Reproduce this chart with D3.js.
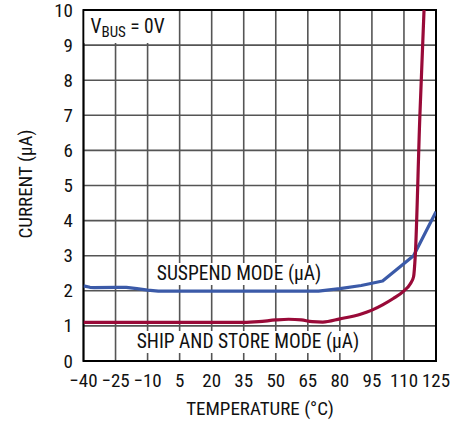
<!DOCTYPE html>
<html><head><meta charset="utf-8">
<script src="https://cdn.jsdelivr.net/npm/d3@7"></script>
<style>
html,body{margin:0;padding:0;background:#fff;}
text{font-family:"Liberation Sans Narrow","Arial Narrow","Roboto Condensed",sans-serif;fill:#111;}
</style></head>
<body><svg id="c" width="464" height="425"></svg>
<script>
const xTicks = [-40,-25,-10,5,20,35,50,65,80,95,110,125];
const yTicks = [0,1,2,3,4,5,6,7,8,9,10];
const suspendTemp = [-40,-37,-35,-25,-20,-15,-10,-5,5,20,35,50,65,70,80,90,100,114.5,125];
const suspendVal  = [2.14,2.1,2.09,2.1,2.1,2.06,2.02,1.99,1.99,1.99,1.99,1.99,1.99,1.99,2.06,2.15,2.28,3.0,4.25];
const shipTemp = [-40,-25,-10,5,20,35,42,50,56,62,67,72,80,90,95,100,105,110,113,114.5,115.3,117.4,119.4];
const shipVal  = [1.1,1.1,1.1,1.1,1.1,1.1,1.12,1.17,1.19,1.17,1.12,1.11,1.2,1.34,1.45,1.6,1.78,2.0,2.2,2.4,3.0,6.9,10];

const svg = d3.select("#c");
const L=83.5,R=436,T=10,B=361;
const x = d3.scaleLinear().domain([-40,125]).range([L,R]);
const y = d3.scaleLinear().domain([0,10]).range([B,T]);

// grid
const g = svg.append("g");
g.selectAll(".vx").data(xTicks).enter().append("line")
 .attr("x1",d=>x(d)).attr("x2",d=>x(d)).attr("y1",T).attr("y2",B)
 .attr("stroke","#555").attr("stroke-width",1.6);
g.selectAll(".hy").data(yTicks).enter().append("line")
 .attr("y1",d=>y(d)).attr("y2",d=>y(d)).attr("x1",L).attr("x2",R)
 .attr("stroke","#555").attr("stroke-width",1.6);

function bgText(txt, cx, cy, size){
  const t = svg.append("text").attr("x",cx).attr("y",cy).attr("text-anchor","middle")
    .attr("font-size",size).text(txt);
  const bb = t.node().getBBox();
  svg.insert("rect", function(){return t.node();})
    .attr("x",bb.x-3).attr("y",bb.y+1).attr("width",bb.width+6).attr("height",bb.height-1).attr("fill","#fff");
  return t;
}

svg.append("rect").attr("x",L).attr("y",T).attr("width",R-L).attr("height",B-T)
 .attr("fill","none").attr("stroke","#000").attr("stroke-width",2);

svg.append("clipPath").attr("id","clp").append("rect").attr("x",L).attr("y",T).attr("width",R-L).attr("height",B-T);
const lineS = d3.line().curve(d3.curveLinear);
const lineR = d3.line().curve(d3.curveMonotoneX);
svg.append("path").attr("clip-path","url(#clp)")
 .attr("d", lineS(suspendTemp.map((t,i)=>[x(t),y(suspendVal[i])])))
 .attr("fill","none").attr("stroke","#3b5aa8").attr("stroke-width",3.2).attr("stroke-linejoin","round");
svg.append("path").attr("clip-path","url(#clp)")
 .attr("d", lineR(shipTemp.map((t,i)=>[x(t),y(shipVal[i])])))
 .attr("fill","none").attr("stroke","#990a38").attr("stroke-width",3.2).attr("stroke-linejoin","round");

bgText("SUSPEND MODE (µA)", 239, 280, 19.5);
bgText("SHIP AND STORE MODE (µA)", 248, 348, 19.5);

svg.append("rect").attr("x",L+1).attr("y",T+1).attr("width",86).attr("height",32).attr("fill","#fff");
const vb = svg.append("text").attr("x",90.5).attr("y",33).attr("font-size",19.5);
vb.append("tspan").text("V");
vb.append("tspan").attr("dy",4).attr("font-size",15).text("BUS");
vb.append("tspan").attr("dy",-4).text(" = 0V");

svg.selectAll(".xt").data(xTicks).enter().append("text")
 .attr("x",d=>x(d)).attr("y",387).attr("text-anchor","middle").attr("font-size",19)
 .text(d=>d<0?"\u2212"+Math.abs(d):d);
svg.selectAll(".yt").data(yTicks).enter().append("text")
 .attr("x",73).attr("y",d=>y(d)+6.5).attr("text-anchor","end").attr("font-size",19)
 .text(d=>d);

svg.append("text").attr("x",260).attr("y",415).attr("text-anchor","middle").attr("font-size",19)
 .text("TEMPERATURE (°C)");
svg.append("text").attr("transform","translate(32,184) rotate(-90)").attr("text-anchor","middle").attr("font-size",19)
 .text("CURRENT (µA)");
</script></body></html>
